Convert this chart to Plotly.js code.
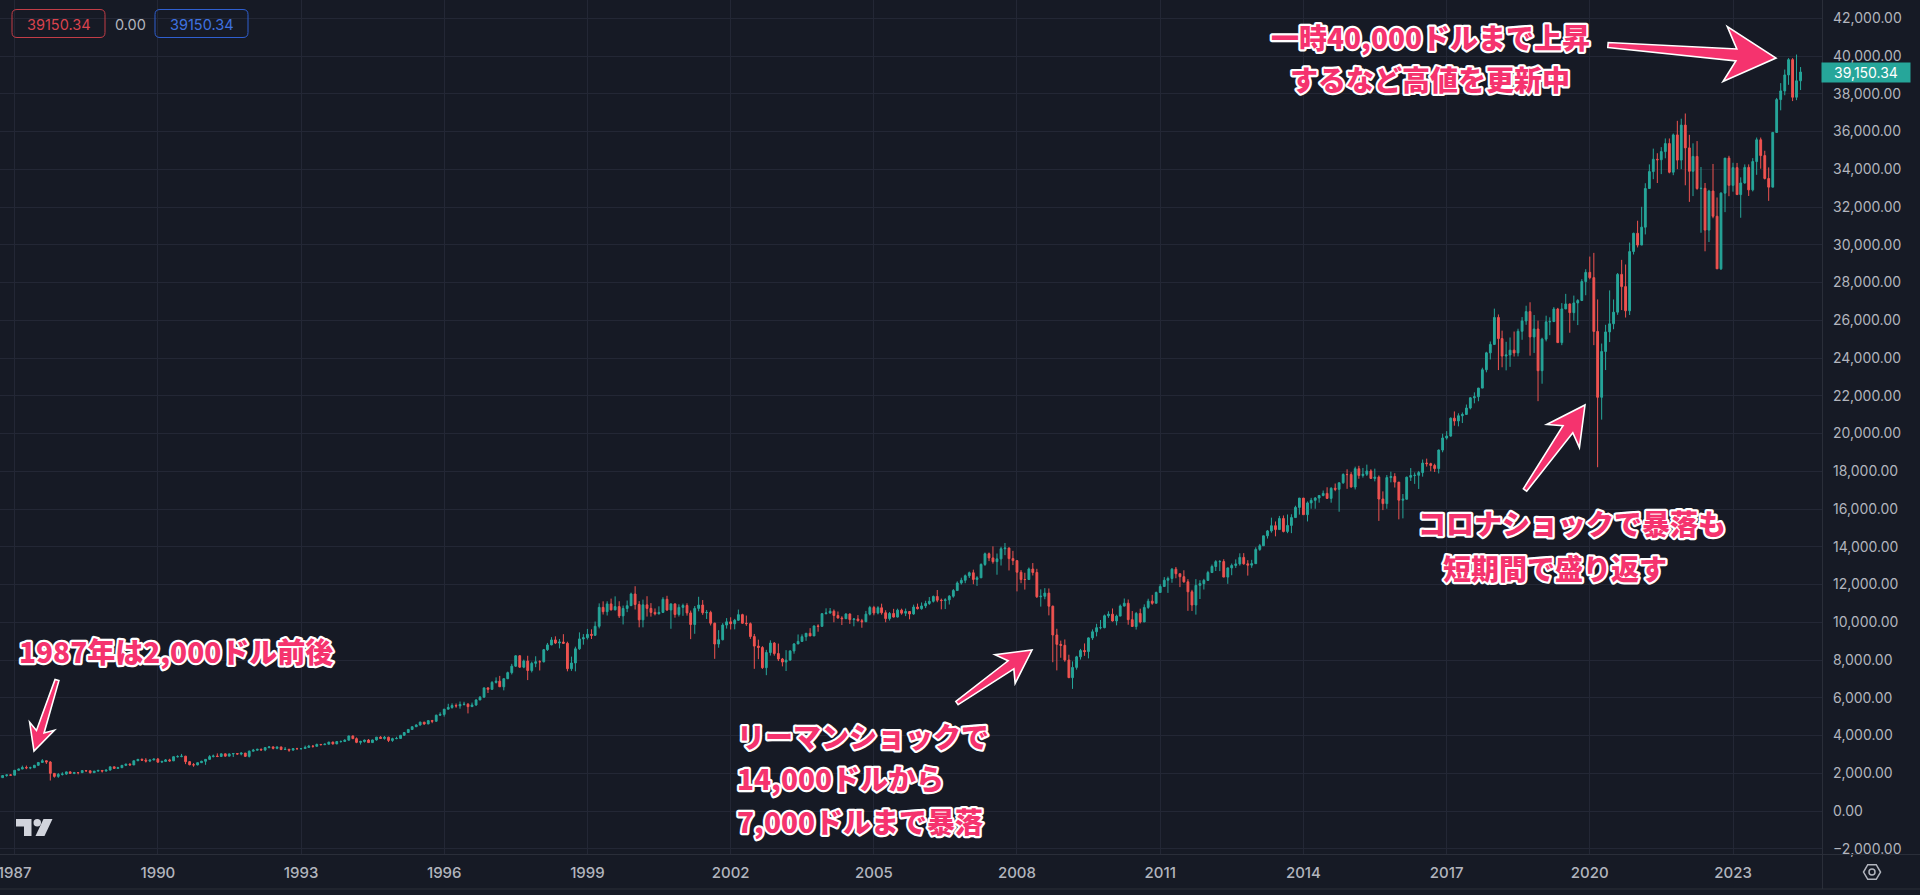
<!DOCTYPE html>
<html>
<head>
<meta charset="utf-8">
<script src="https://cdn.plot.ly/plotly-3.0.1.min.js"></script>
<style>
html,body{margin:0;padding:0;background:#161a25;overflow:hidden;}
#chart{width:1920px;height:895px;}
</style>
</head>
<body>
<div id="chart"></div>
<script>
// ---- Data: Dow Jones Industrial Average, monthly candles ----
const startYear = 1986, startMonth = 9; // first candle: Sep 1986
const openP = [
/*1986*/ 1898,1768,1878,1914,
/*1987*/ 1896,2158,2224,2305,2286,2292,2419,2572,2663,2596,1994,1834,
/*1988*/ 1939,1958,2072,1988,2032,2031,2142,2129,2032,2113,2149,2115,
/*1989*/ 2169,2342,2258,2294,2419,2480,2440,2661,2737,2693,2645,2706,
/*1990*/ 2753,2591,2627,2707,2657,2877,2881,2905,2614,2452,2442,2560,
/*1991*/ 2634,2736,2882,2914,2888,3028,2907,3025,3044,3017,3069,2895,
/*1992*/ 3169,3223,3268,3235,3359,3397,3319,3394,3257,3272,3226,3305,
/*1993*/ 3301,3310,3371,3435,3428,3527,3516,3539,3651,3555,3681,3684,
/*1994*/ 3754,3978,3832,3636,3682,3758,3625,3765,3913,3843,3908,3739,
/*1995*/ 3834,3844,4011,4158,4321,4465,4556,4708,4611,4789,4755,5074,
/*1996*/ 5117,5395,5486,5587,5569,5643,5655,5529,5616,5882,6029,6522,
/*1997*/ 6448,6813,6878,6583,7009,7331,7673,8223,7622,7945,7442,7823,
/*1998*/ 7908,7907,8546,8800,9063,8900,8952,8883,7539,7843,8592,9117,
/*1999*/ 9181,9359,9307,9786,10789,10560,10971,10655,10829,10337,10730,10878,
/*2000*/ 11497,10941,10128,10922,10734,10522,10448,10522,11215,10651,10971,10414,
/*2001*/ 10788,10887,10495,9879,10735,10912,10502,10523,9950,8848,9075,9852,
/*2002*/ 10022,9920,10106,10404,9946,9925,9243,8737,8664,7592,8397,8896,
/*2003*/ 8342,8054,7891,7992,8480,8850,8985,9234,9416,9275,9801,9782,
/*2004*/ 10454,10488,10584,10358,10226,10188,10435,10140,10174,10080,10027,10428,
/*2005*/ 10783,10490,10766,10504,10193,10467,10275,10641,10482,10569,10440,10806,
/*2006*/ 10718,10865,10993,11109,11367,11168,11150,11186,11381,11679,12081,12222,
/*2007*/ 12463,12622,12269,12354,13063,13628,13409,13212,13358,13896,13930,13372,
/*2008*/ 13265,12650,12266,12263,12820,12638,11350,11378,11544,10851,9325,8829,
/*2009*/ 8776,8001,7063,7609,8168,8500,8447,9172,9496,9712,9713,10345,
/*2010*/ 10428,10067,10325,10857,11009,10137,9774,10466,10015,10788,11118,11006,
/*2011*/ 11578,11892,12226,12320,12811,12570,12414,12143,11614,10913,11955,12046,
/*2012*/ 12218,12633,12952,13212,13214,12393,12880,13009,13091,13437,13096,13026,
/*2013*/ 13104,13861,14054,14579,14840,15116,14910,15500,14810,15130,15546,16086,
/*2014*/ 16577,15699,16322,16458,16581,16717,16827,16563,17098,17043,17391,17828,
/*2015*/ 17823,17165,18133,17776,17841,18011,17620,17690,16528,16285,17664,17720,
/*2016*/ 17425,16466,16517,17685,17774,17787,17930,18432,18401,18308,18142,19124,
/*2017*/ 19763,19864,20812,20663,20941,21009,21350,21891,21948,22405,23377,24272,
/*2018*/ 24719,26149,25029,24103,24163,24416,24271,25415,25965,26458,25116,25538,
/*2019*/ 23327,25000,25916,25929,26593,24815,26600,26864,26403,26917,27046,28051,
/*2020*/ 28538,28256,25409,21917,24346,25383,25813,26428,28430,27782,26502,29639,
/*2021*/ 30606,29983,30932,32982,33875,34529,34503,34935,35361,33844,35820,34484,
/*2022*/ 36338,35132,33893,34678,32977,32990,30775,32845,31510,28726,32733,34590,
/*2023*/ 33147,34086,32657,33274,34098,32908,34408,35560,34722,33508,33053,35951,
/*2024*/ 37690,38150,38996,39807,37816,38686
];
const highP = [
/*1986*/ 1919,1878,1916,1955,
/*1987*/ 2163,2244,2405,2406,2346,2446,2572,2747,2665,2641,2014,2014,
/*1988*/ 2052,2084,2110,2072,2063,2158,2162,2147,2123,2184,2163,2182,
/*1989*/ 2342,2347,2340,2419,2502,2532,2661,2753,2782,2799,2710,2761,
/*1990*/ 2810,2656,2755,2766,2890,2956,3024,2920,2637,2539,2572,2661,
/*1991*/ 2751,2961,2990,3053,3043,3049,3048,3065,3059,3098,3075,3204,
/*1992*/ 3290,3296,3310,3378,3426,3418,3412,3402,3390,3280,3312,3350,
/*1993*/ 3327,3466,3501,3484,3570,3549,3580,3663,3672,3709,3735,3800,
/*1994*/ 3991,3998,3896,3725,3784,3812,3784,3917,3968,3975,3937,3881,
/*1995*/ 3933,4030,4174,4330,4472,4596,4732,4710,4801,4828,5106,5230,
/*1996*/ 5405,5681,5703,5695,5801,5787,5719,5744,5924,6094,6547,6561,
/*1997*/ 6883,7079,7158,7029,7384,7796,8254,8259,8021,8225,7914,8198,
/*1998*/ 7985,8586,8904,9212,9254,9112,9368,8969,8180,8706,9463,9373,
/*1999*/ 9647,9625,10039,11000,11108,11111,11252,11372,11113,10884,11150,11568,
/*2000*/ 11909,11119,11200,11380,11014,10731,10843,11327,11402,10998,11000,10950,
/*2001*/ 10986,11005,10620,10860,11350,11175,10650,10610,9977,9580,9951,10220,
/*2002*/ 10263,10180,10673,10450,10355,9990,9380,9077,8734,8538,9043,8949,
/*2003*/ 8869,8109,8522,8515,8898,9352,9358,9428,9687,9838,9893,10484,
/*2004*/ 10737,10754,10678,10570,10317,10480,10470,10210,10380,10180,10600,10868,
/*2005*/ 10868,10850,10984,10638,10545,10710,10720,10720,10724,10592,10932,10988,
/*2006*/ 11048,11137,11335,11414,11709,11253,11271,11440,11757,12167,12361,12529,
/*2007*/ 12684,12787,12440,13121,13692,13693,14022,13641,14000,14198,13962,13781,
/*2008*/ 13279,12767,12622,12900,13136,12830,11743,11809,11790,10882,9654,9026,
/*2009*/ 9088,8280,7925,8221,8588,8878,9199,9621,9918,10120,10406,10580,
/*2010*/ 10730,10403,10938,11258,11205,10595,10545,10720,10948,11247,11452,11625,
/*2011*/ 12020,12391,12419,12876,12929,12570,12754,12284,11717,12284,12227,12300,
/*2012*/ 12725,13055,13289,13297,13338,12898,13109,13331,13653,13662,13290,13305,
/*2013*/ 13969,14149,14585,14888,15542,15340,15634,15658,15710,15722,16174,16588,
/*2014*/ 16589,16398,16590,16631,16736,16978,17151,17153,17350,17395,17894,18103,
/*2015*/ 17951,18244,18289,18175,18351,18104,18137,17780,16934,17799,17978,17896,
/*2016*/ 17425,16795,17716,18168,17935,18016,18622,18668,18450,18399,19152,19987,
/*2017*/ 20125,20851,21169,21070,21113,21535,21930,22180,22420,23485,24328,24876,
/*2018*/ 26617,26307,25449,24858,25087,25402,25552,26167,26770,26952,26277,25980,
/*2019*/ 25075,26242,26156,26696,26656,26908,27398,26882,27306,27120,28175,28702,
/*2020*/ 29374,29569,27102,24765,25758,27581,27101,28502,29199,28955,30117,30637,
/*2021*/ 31272,32010,33259,34257,35092,34849,35171,35632,35631,35893,36566,36679,
/*2022*/ 36953,35824,35373,35493,34118,33272,32910,34281,32504,32784,34590,34712,
/*2023*/ 34343,34335,33572,34257,34257,34589,35680,35679,34979,34098,35954,37778,
/*2024*/ 38562,39283,39890,39890,40077,39414
];
const lowP = [
/*1986*/ 1755,1763,1817,1895,
/*1987*/ 1896,2158,2217,2216,2216,2292,2391,2566,2493,1616,1766,1758,
/*1988*/ 1879,1924,1978,1951,1942,2031,2074,1980,2020,2088,2038,2092,
/*1989*/ 2144,2245,2239,2282,2380,2413,2440,2651,2652,2569,2589,2682,
/*1990*/ 2543,2541,2627,2611,2645,2837,2850,2483,2421,2344,2421,2543,
/*1991*/ 2447,2720,2839,2852,2862,2879,2907,2859,2988,2950,2860,2836,
/*1992*/ 3160,3200,3204,3170,3323,3265,3270,3224,3240,3136,3196,3244,
/*1993*/ 3241,3288,3350,3353,3413,3471,3491,3531,3520,3540,3615,3674,
/*1994*/ 3730,3811,3594,3520,3625,3619,3620,3730,3819,3781,3652,3665,
/*1995*/ 3802,3843,3977,4141,4294,4450,4524,4568,4603,4653,4724,5043,
/*1996*/ 4999,5381,5419,5469,5420,5588,5170,5516,5577,5876,6000,6252,
/*1997*/ 6419,6754,6583,6391,6987,7234,7630,7583,7566,6936,7341,7619,
/*1998*/ 7445,7870,8481,8782,8844,8616,8847,7400,7425,7400,8536,8812,
/*1999*/ 9087,9113,9288,9675,10409,10356,10629,10637,10225,9884,10535,10873,
/*2000*/ 10675,9731,9731,10301,10299,10365,10410,10535,10601,9654,10244,10303,
/*2001*/ 10338,10350,9106,9389,10580,10390,10175,9830,8062,8650,9040,9663,
/*2002*/ 9616,9625,10070,9920,9808,9120,7532,8043,7528,7197,8236,8232,
/*2003*/ 7945,7662,7416,7992,8334,8850,8970,9016,9275,9275,9500,9782,
/*2004*/ 10417,10460,10000,10198,9852,10188,9913,9785,10040,9708,10027,10361,
/*2005*/ 10368,10417,10403,10000,10090,10250,10250,10400,10325,10156,10395,10680,
/*2006*/ 10662,10750,10920,11045,11061,10683,10699,10940,11300,11668,11996,12069,
/*2007*/ 12343,12015,11926,12354,12985,13239,13106,12518,13006,13555,12743,13029,
/*2008*/ 11635,12069,11731,12237,12478,11288,10828,11219,10365,7882,7449,8118,
/*2009*/ 7909,7063,6470,7489,8022,8221,8087,9064,9253,9625,9679,10235,
/*2010*/ 10040,9835,10325,10841,9870,9758,9614,9937,10015,10711,10929,11007,
/*2011*/ 11578,11892,11555,12093,12330,11862,12093,10605,10598,10404,11231,11735,
/*2012*/ 12218,12633,12714,12710,12391,12035,12492,12878,13000,13045,12471,12883,
/*2013*/ 13104,13784,14054,14434,14746,14552,14910,14760,14720,14720,15545,15703,
/*2014*/ 15699,15341,16015,16015,16334,16671,16548,16334,16944,15855,17331,17068,
/*2015*/ 17136,17037,17602,17664,17749,17596,17465,15370,15942,16013,17411,17138,
/*2016*/ 15451,15503,16511,17484,17331,17063,17713,18247,18000,17960,17884,19005,
/*2017*/ 19678,19831,20413,20379,20554,20994,21279,21600,21709,22405,23242,23922,
/*2018*/ 24719,23360,23509,23345,23532,24078,24085,24966,25758,24122,24268,21713,
/*2019*/ 22638,24881,25208,25916,24814,24680,26589,25339,25978,25743,27016,27325,
/*2020*/ 28170,24681,18214,20735,23361,24843,25524,26287,26538,26144,26277,29485,
/*2021*/ 29857,29983,30547,32961,33474,33271,33742,34580,33785,33686,34006,34006,
/*2022*/ 33150,32272,32578,32913,30636,29653,30144,31404,28715,28661,31728,32573,
/*2023*/ 32812,32644,31430,33235,32586,32826,33705,34030,33460,32327,33052,35951,
/*2024*/ 37122,37921,38474,37612,37661,38197
];
const closeP = [
/*1986*/ 1768,1878,1914,1896,
/*1987*/ 2158,2224,2305,2286,2292,2419,2572,2663,2596,1994,1834,1939,
/*1988*/ 1958,2072,1988,2032,2031,2142,2129,2032,2113,2149,2115,2169,
/*1989*/ 2342,2258,2294,2419,2480,2440,2661,2737,2693,2645,2706,2753,
/*1990*/ 2591,2627,2707,2657,2877,2881,2905,2614,2452,2442,2560,2634,
/*1991*/ 2736,2882,2914,2888,3028,2907,3025,3044,3017,3069,2895,3169,
/*1992*/ 3223,3268,3235,3359,3397,3319,3394,3257,3272,3226,3305,3301,
/*1993*/ 3310,3371,3435,3428,3527,3516,3539,3651,3555,3681,3684,3754,
/*1994*/ 3978,3832,3636,3682,3758,3625,3765,3913,3843,3908,3739,3834,
/*1995*/ 3844,4011,4158,4321,4465,4556,4708,4611,4789,4755,5074,5117,
/*1996*/ 5395,5486,5587,5569,5643,5655,5529,5616,5882,6029,6522,6448,
/*1997*/ 6813,6878,6583,7009,7331,7673,8223,7622,7945,7442,7823,7908,
/*1998*/ 7907,8546,8800,9063,8900,8952,8883,7539,7843,8592,9117,9181,
/*1999*/ 9359,9307,9786,10789,10560,10971,10655,10829,10337,10730,10878,11497,
/*2000*/ 10941,10128,10922,10734,10522,10448,10522,11215,10651,10971,10414,10788,
/*2001*/ 10887,10495,9879,10735,10912,10502,10523,9950,8848,9075,9852,10022,
/*2002*/ 9920,10106,10404,9946,9925,9243,8737,8664,7592,8397,8896,8342,
/*2003*/ 8054,7891,7992,8480,8850,8985,9234,9416,9275,9801,9782,10454,
/*2004*/ 10488,10584,10358,10226,10188,10435,10140,10174,10080,10027,10428,10783,
/*2005*/ 10490,10766,10504,10193,10467,10275,10641,10482,10569,10440,10806,10718,
/*2006*/ 10865,10993,11109,11367,11168,11150,11186,11381,11679,12081,12222,12463,
/*2007*/ 12622,12269,12354,13063,13628,13409,13212,13358,13896,13930,13372,13265,
/*2008*/ 12650,12266,12263,12820,12638,11350,11378,11544,10851,9325,8829,8776,
/*2009*/ 8001,7063,7609,8168,8500,8447,9172,9496,9712,9713,10345,10428,
/*2010*/ 10067,10325,10857,11009,10137,9774,10466,10015,10788,11118,11006,11578,
/*2011*/ 11892,12226,12320,12811,12570,12414,12143,11614,10913,11955,12046,12218,
/*2012*/ 12633,12952,13212,13214,12393,12880,13009,13091,13437,13096,13026,13104,
/*2013*/ 13861,14054,14579,14840,15116,14910,15500,14810,15130,15546,16086,16577,
/*2014*/ 15699,16322,16458,16581,16717,16827,16563,17098,17043,17391,17828,17823,
/*2015*/ 17165,18133,17776,17841,18011,17620,17690,16528,16285,17664,17720,17425,
/*2016*/ 16466,16517,17685,17774,17787,17930,18432,18401,18308,18142,19124,19763,
/*2017*/ 19864,20812,20663,20941,21009,21350,21891,21948,22405,23377,24272,24719,
/*2018*/ 26149,25029,24103,24163,24416,24271,25415,25965,26458,25116,25538,23327,
/*2019*/ 25000,25916,25929,26593,24815,26600,26864,26403,26917,27046,28051,28538,
/*2020*/ 28256,25409,21917,24346,25383,25813,26428,28430,27782,26502,29639,30606,
/*2021*/ 29983,30932,32982,33875,34529,34503,34935,35361,33844,35820,34484,36338,
/*2022*/ 35132,33893,34678,32977,32990,30775,32845,31510,28726,32733,34590,33147,
/*2023*/ 34086,32657,33274,34098,32908,34408,35560,34722,33508,33053,35951,37690,
/*2024*/ 38150,38996,39807,37816,38686,39150.34
];
const yearTicks = [1987,1990,1993,1996,1999,2002,2005,2008,2011,2014,2017,2020,2023];
const priceTicks = [-2000,0,2000,4000,6000,8000,10000,12000,14000,16000,18000,20000,22000,24000,26000,28000,30000,32000,34000,36000,38000,40000,42000];
const priceChange = 0.00;
const notes = {
  y1987: '1987年は2,000ドル前後',
  lehman: ['リーマンショックで', '14,000ドルから', '7,000ドルまで暴落'],
  corona: ['コロナショックで暴落も', '短期間で盛り返す'],
  top: ['一時40,000ドルまで上昇', 'するなど高値を更新中']
};

// ---- Build ----
const dates = closeP.map((_, i) => {
  const m = startMonth - 1 + i;
  const y = startYear + Math.floor(m / 12);
  const mm = (m % 12) + 1;
  return y + '-' + String(mm).padStart(2, '0') + '-01';
});
const lastClose = closeP[closeP.length - 1];

const W = 1920, H = 895, ML = 0, MR = 98, MT = 0, MB = 41;
const plotW = W - ML - MR, plotH = H - MT - MB;
const PX = x => (x - ML) / plotW;
const PY = y => 1 - (y - MT) / plotH;

const BG = '#161a25', GRID = '#232735', TXT = '#b2b5be';
const UP = '#26a69a', DOWN = '#ef5350', PINK = '#f5336e';

function pathFromPts(pts) {
  return pts.map((p, i) => (i ? 'L' : 'M') + PX(p[0]).toFixed(5) + ',' + PY(p[1]).toFixed(5)).join(' ') + ' Z';
}
function arrowShape(x1, y1, x2, y2, headLen, headHalf, shaftHalf, tailHalf) {
  const dx = x2 - x1, dy = y2 - y1, L = Math.hypot(dx, dy);
  const ux = dx / L, uy = dy / L, nx = -uy, ny = ux;
  const bx = x2 - ux * headLen, by = y2 - uy * headLen;
  const jx = bx + ux * headLen * 0.22, jy = by + uy * headLen * 0.22;
  const pts = [
    [x1 + nx * tailHalf, y1 + ny * tailHalf],
    [jx + nx * shaftHalf, jy + ny * shaftHalf],
    [bx + nx * headHalf, by + ny * headHalf],
    [x2, y2],
    [bx - nx * headHalf, by - ny * headHalf],
    [jx - nx * shaftHalf, jy - ny * shaftHalf],
    [x1 - nx * tailHalf, y1 - ny * tailHalf]
  ];
  return {type: 'path', xref: 'paper', yref: 'paper', path: pathFromPts(pts),
          fillcolor: PINK, line: {color: '#ffffff', width: 1.6}, layer: 'above'};
}
function roundRect(x0, y0, x1, y1, r, color) {
  const p = [
    'M' + PX(x0 + r) + ',' + PY(y0),
    'L' + PX(x1 - r) + ',' + PY(y0),
    'Q' + PX(x1) + ',' + PY(y0) + ' ' + PX(x1) + ',' + PY(y0 + r),
    'L' + PX(x1) + ',' + PY(y1 - r),
    'Q' + PX(x1) + ',' + PY(y1) + ' ' + PX(x1 - r) + ',' + PY(y1),
    'L' + PX(x0 + r) + ',' + PY(y1),
    'Q' + PX(x0) + ',' + PY(y1) + ' ' + PX(x0) + ',' + PY(y1 - r),
    'L' + PX(x0) + ',' + PY(y0 + r),
    'Q' + PX(x0) + ',' + PY(y0) + ' ' + PX(x0 + r) + ',' + PY(y0),
    'Z'
  ].join(' ');
  return {type: 'path', xref: 'paper', yref: 'paper', path: p, line: {color: color, width: 1}, fillcolor: 'rgba(0,0,0,0)', layer: 'above'};
}

const noteFont = {family: 'Noto Sans CJK JP', size: 28, color: PINK, weight: 900};
function note(text, x, y, anchor) {
  return {xref: 'paper', yref: 'paper', x: PX(x), y: PY(y), xanchor: anchor, yanchor: 'middle',
          text: text, showarrow: false, font: noteFont};
}
function fmt(v) { return v.toLocaleString('en-US', {minimumFractionDigits: 2, maximumFractionDigits: 2}); }

const trace = {
  type: 'candlestick', x: dates, open: openP, high: highP, low: lowP, close: closeP,
  increasing: {line: {color: UP, width: 1}, fillcolor: UP},
  decreasing: {line: {color: DOWN, width: 1}, fillcolor: DOWN},
  whiskerwidth: 0, hoverinfo: 'skip', showlegend: false
};

const shapes = [
  // frame lines
  {type: 'line', xref: 'paper', yref: 'paper', x0: PX(0), x1: PX(W), y0: PY(854.5), y1: PY(854.5), line: {color: '#2a2e39', width: 1}},
  {type: 'line', xref: 'paper', yref: 'paper', x0: PX(0), x1: PX(W), y0: PY(889), y1: PY(889), line: {color: '#2a2e39', width: 1}},
  {type: 'line', xref: 'paper', yref: 'paper', x0: PX(1822.5), x1: PX(1822.5), y0: PY(0), y1: PY(889), line: {color: '#2a2e39', width: 1}},
  // arrows
  arrowShape(57, 680, 34, 751, 26, 13, 4, 2),
  arrowShape(957, 703, 1032, 650, 33, 17.5, 5, 2),
  arrowShape(1525, 490, 1585, 405, 38, 20, 6, 2),
  arrowShape(1608, 45, 1776, 58, 51, 27.5, 6, 2.5),
  // top-left value boxes
  roundRect(12, 9.5, 105, 37.5, 5, '#c23d47'),
  roundRect(155, 9.5, 248, 37.5, 5, '#2f5fd0'),
  // TradingView logo
  {type: 'path', xref: 'paper', yref: 'paper', fillcolor: '#d1d4dc', line: {width: 0},
   path: pathFromPts([[16, 819], [31.5, 819], [31.5, 836], [24, 836], [24, 826.5], [16, 826.5]])},
  {type: 'circle', xref: 'paper', yref: 'paper', fillcolor: '#d1d4dc', line: {width: 0},
   x0: PX(33.5), x1: PX(41), y0: PY(819), y1: PY(826.5)},
  {type: 'path', xref: 'paper', yref: 'paper', fillcolor: '#d1d4dc', line: {width: 0},
   path: pathFromPts([[43.5, 819], [52.5, 819], [44.5, 836], [35.5, 836]])},
  // settings gear (hexagon)
  {type: 'path', xref: 'paper', yref: 'paper', fillcolor: 'rgba(0,0,0,0)', line: {color: TXT, width: 1.5},
   path: pathFromPts([0, 1, 2, 3, 4, 5].map(k => [1872 + 8.5 * Math.cos(k * Math.PI / 3), 872 + 8.5 * Math.sin(k * Math.PI / 3)]))},
  {type: 'circle', xref: 'paper', yref: 'paper', fillcolor: 'rgba(0,0,0,0)', line: {color: TXT, width: 1.5},
   x0: PX(1869), x1: PX(1875), y0: PY(869), y1: PY(875)}
];

const annotations = [
  note(notes.y1987, 17, 651, 'left'),
  note(notes.lehman[0], 735, 736, 'left'),
  note(notes.lehman[1], 735, 778, 'left'),
  note(notes.lehman[2], 735, 821, 'left'),
  note(notes.corona[0], 1416, 523, 'left'),
  note(notes.corona[1], 1441, 568, 'left'),
  note(notes.top[0], 1430, 37, 'center'),
  note(notes.top[1], 1430, 79, 'center'),
  // value boxes
  {xref: 'paper', yref: 'paper', x: PX(58.5), y: PY(24), xanchor: 'center', yanchor: 'middle', showarrow: false,
   text: lastClose.toFixed(2), font: {family: 'Inter, Roboto', size: 14.5, color: '#d9434e'}},
  {xref: 'paper', yref: 'paper', x: PX(130), y: PY(24), xanchor: 'center', yanchor: 'middle', showarrow: false,
   text: priceChange.toFixed(2), font: {family: 'Inter, Roboto', size: 14.5, color: TXT}},
  {xref: 'paper', yref: 'paper', x: PX(201.5), y: PY(24), xanchor: 'center', yanchor: 'middle', showarrow: false,
   text: lastClose.toFixed(2), font: {family: 'Inter, Roboto', size: 14.5, color: '#3f72e0'}},
  // last price tag on the price axis
  {xref: 'paper', yref: 'y', x: PX(1821), y: lastClose, xanchor: 'left', yanchor: 'middle', showarrow: false,
   text: fmt(lastClose), bgcolor: UP, borderpad: 1, width: 86, align: 'center',
   font: {family: 'Inter, Roboto', size: 14, color: '#ffffff'}}
];
const NOTE_COUNT = 8;

const layout = {
  width: W, height: H,
  margin: {l: ML, r: MR, t: MT, b: MB, pad: 0},
  paper_bgcolor: BG, plot_bgcolor: BG,
  showlegend: false,
  dragmode: false,
  xaxis: {
    type: 'date', range: ['1986-09-11', '2024-11-12'],
    tickvals: yearTicks.map(y => y + '-01-01'), ticktext: yearTicks.map(String),
    showgrid: true, gridcolor: GRID, gridwidth: 1, zeroline: false, showline: false, ticks: '',
    tickfont: {family: 'Inter, Roboto', size: 15, color: TXT, weight: 500},
    ticklabelstandoff: 8, ticklabeloverflow: 'allow',
    rangeslider: {visible: false}, fixedrange: true
  },
  yaxis: {
    side: 'right', range: [-2278, 42967],
    tickvals: priceTicks, tickformat: ',.2f',
    showgrid: true, gridcolor: GRID, gridwidth: 1, zeroline: false, showline: false, ticks: '',
    tickfont: {family: 'Inter, Roboto', size: 14, color: TXT},
    ticklabelstandoff: 10, ticklabeloverflow: 'allow', fixedrange: true
  },
  shapes: shapes,
  annotations: annotations
};

Plotly.newPlot('chart', [trace], layout, {displayModeBar: false, staticPlot: true}).then(gd => {
  // white outline around the pink call-out texts
  for (let i = 0; i < NOTE_COUNT; i++) {
    gd.querySelectorAll('.annotation[data-index="' + i + '"] text.annotation-text').forEach(t => {
      t.style.stroke = '#ffffff';
      t.style.strokeWidth = '4.5px';
      t.style.strokeLinejoin = 'round';
      t.style.paintOrder = 'stroke fill';
    });
  }
});
</script>
</body>
</html>
